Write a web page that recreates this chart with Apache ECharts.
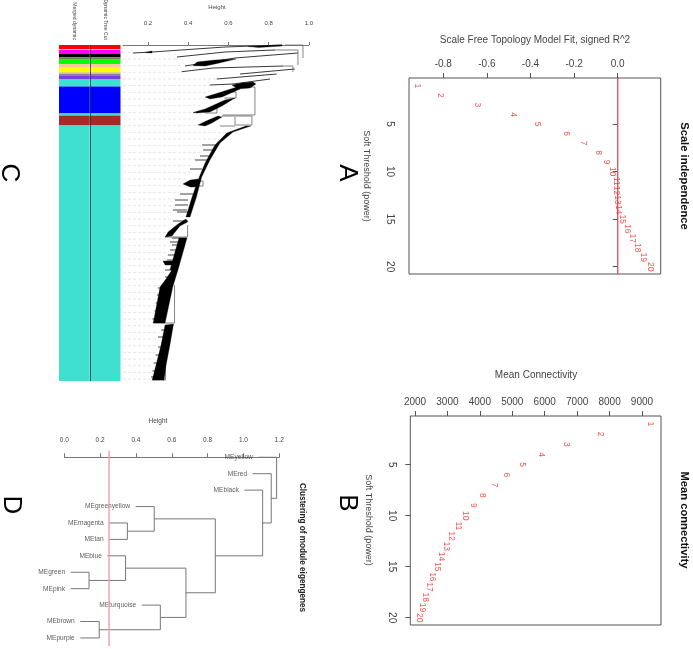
<!DOCTYPE html>
<html><head><meta charset="utf-8">
<style>html,body{margin:0;padding:0;background:#fff}#c{width:693px;height:649px;filter:blur(0.35px)}</style>
<script src="https://cdn.jsdelivr.net/npm/echarts@6/dist/echarts.min.js"></script>
</head><body><div id="c"></div>
<script>
// Panels A, B: soft-threshold power vs fit and connectivity
const powers = [1,2,3,4,5,6,7,8,9,10,11,12,13,14,15,16,17,18,19,20];
const fitR2 = [-0.919,-0.812,-0.642,-0.477,-0.37,-0.234,-0.158,-0.087,-0.05,-0.024,-0.008,-0.008,0,0.003,0.023,0.043,0.069,0.092,0.119,0.15];
const meanK = [9256,7725,6676,5895,5299,4826,4436,4086,3799,3542,3336,3131,2966,2812,2678,2545,2432,2308,2216,2123];
const fitTicks = [-0.8,-0.6,-0.4,-0.2,0];
const kTicks = [2000,3000,4000,5000,6000,7000,8000,9000];
const powerTicks = [5,10,15,20];
const rCut = 0;

// Panel C: module colour strips (gene counts in dendrogram order, in hundreds)
const stripNames = ['Merged dynamic','Dynamic Tree Cut'];
const moduleColors = ['#ff0000','#f7b7b7','#ff00ff','#000000','#6f7f4f','#00ff00','#ffc4a0','#ffff00','#d8c070','#8a80a8','#7a3fe0','#40e0d0','#0000ff','#40e0d0','#a52a2a','#40e0d0'];
const moduleSizes = [4,1,3.7,3.6,2.4,4.3,3.7,4.6,1.7,2,3,7.5,27,2,10,255.5];
const heightTicksC = [0.2,0.4,0.6,0.8,1.0];

// Panel C: gene dendrogram, [height, gene order]
const denseBranches = [
 [[.711,81],[.623,87],[.558,98],[.508,115],[.467,132],[.441,152],[.409,172],[.389,172],[.416,154],[.449,135],[.484,118],[.533,100],[.592,88],[.687,81]],
 [[.285,192],[.300,187],[.349,179],[.389,174],[.397,177],[.359,181],[.319,191]],
 [[.394,193],[.349,225],[.309,225],[.354,193]],
 [[.275,216],[.344,216],[.344,220],[.285,220]],
 [[.349,225],[.323,242],[.285,278],[.226,278],[.260,242],[.293,233],[.319,225]],
 [[.327,279],[.309,300],[.290,320],[.280,335],[.221,335],[.240,320],[.265,300],[.285,280]],
 [[.374,139],[.41,135],[.45,134],[.45,142],[.41,142]],
 [[.697,1.5],[.867,0],[.867,1],[.75,2.5]],
 [[.185,7.5],[.22,6],[.22,8]],
 [[.424,20.7],[.444,17],[.533,15],[.638,14],[.533,19],[.484,21]],
 [[.618,40],[.668,38],[.722,37],[.737,39],[.707,43],[.648,44]],
 [[.484,52],[.533,49],[.643,42],[.658,44],[.568,52],[.508,54]],
 [[.424,67.5],[.484,64],[.528,60],[.583,55],[.633,53],[.568,61],[.508,67],[.444,68]],
 [[.449,80],[.489,76],[.548,71],[.568,72],[.518,78],[.484,81]]
];
const thinBranches = [
 [[.125,8],[.22,7],[.583,2],[.867,0]],
 [[.344,12],[.583,7],[.832,5]],
 [[.384,21],[.633,13],[.946,8]],
 [[.368,26.7],[.523,23],[.872,21]],
 [[.658,29],[.931,24]],
 [[.542,34],[.84,29]],
 [[.508,40],[.623,39],[.807,34]]
];
const brackets = [
 [[.882,0],[.971,0],[.971,13]],
 [[.832,5],[.946,5],[.946,20]],
 [[.872,21],[.921,21],[.921,27]],
 [[.643,42],[.732,42],[.732,70],[.57,70]],
 [[.568,71],[.717,71],[.717,80],[.633,80],[.633,72]],
 [[.558,81],[.633,81]],
 [[.58,47],[.638,47],[.638,53],[.58,53]],
 [[.484,68],[.543,68],[.543,63]],
 [[.397,180],[.397,192],[.285,192]],
 [[.332,240],[.332,278],[.226,278]],
 [[.287,315],[.287,335],[.221,335]],
 [[.444,136],[.474,136],[.474,141],[.444,141]]
];
// short side branches: [gene order, low height, high height]
const sideBranches = [
 [100,.469,.533],[105,.474,.533],[111,.459,.508],[115,.434,.494],[124,.409,.469],
 [149,.359,.424],[155,.334,.399],[160,.334,.399],[165,.324,.394],[167,.344,.409],[176,.324,.399],
 [193,.319,.394],[197,.309,.384],[200,.319,.374],[205,.309,.374],[210,.299,.359],[215,.294,.349],
 [225,.285,.344],[232,.285,.334],
 [243,.25,.30],[250,.245,.29],[258,.238,.28],[266,.232,.27],[274,.222,.26],
 [285,.265,.30],[292,.25,.29],[302,.25,.28],[310,.238,.27],[318,.228,.26],[326,.222,.25],[332,.215,.24]
];
const guideSpacing = 6.67, guideStart = 7.3;
const guideEnds = [.125,.344,.374,.359,.538,.508,.494,.494,.459,.434,.449,.449,.618,.558,.474,.474,.444,.419,.409,.389,.374,.359,.334,.324,.324,.319,.299,.285,.309,.309,.299,.290,.275,.280,.275,.260,.245,.240,.235,.230,.225,.260,.255,.245,.240,.235,.230,.225,.220,.215];

// Panel D: eigengene clustering
const eigengenes = ['MEyellow','MEred','MEblack','MEgreenyellow','MEmagenta','MEtan','MEblue','MEgreen','MEpink','MEturquoise','MEbrown','MEpurple'];
const leafHeights = [1.083,1.051,1.005,0.398,0.25,0.25,0.24,0.035,0.035,0.432,0.089,0.089];
// merges: [left node, right node, height]; node = leaf index or 'm'+merge index
const merges = [[10,11,0.195],[9,'m0',0.536],[7,8,0.138],[6,'m2',0.342],['m3','m1',0.679],[4,5,0.352],[3,'m5',0.502],['m6','m4',0.843],[2,'m7',1.107],[1,'m8',1.155],[0,'m9',1.185]];
const heightTicksD = [0,0.2,0.4,0.6,0.8,1.0,1.2];
const cutHeight = 0.25;

const ink='#444', font='Liberation Sans, Arial, sans-serif';
function scatterLabels(xs,xi){
  return {type:'scatter',xAxisIndex:xi,yAxisIndex:xi,symbolSize:1,itemStyle:{color:'rgba(0,0,0,0)'},z:5,
    data:powers.map((p,i)=>({value:[xs[i],p],name:String(p)})),
    label:{show:true,formatter:'{b}',position:'inside',rotate:-90,fontSize:8.5,color:'#f02828',fontFamily:font,align:'center',verticalAlign:'middle'}};
}
function boxX(gi,min,max,ticks,fmt){
  return {type:'value',gridIndex:gi,position:'top',min,max,splitLine:{show:false},
    axisLine:{show:false},
    axisTick:{show:true,length:5,customValues:ticks,lineStyle:{color:'#555'}},
    axisLabel:{show:true,customValues:ticks,margin:9,fontSize:10,color:ink,fontFamily:font,formatter:fmt}};
}
function boxY(gi,min,max){
  return {type:'value',gridIndex:gi,inverse:true,min,max,splitLine:{show:false},
    axisLine:{show:false},
    axisTick:{show:true,length:5,customValues:powerTicks,lineStyle:{color:'#555'}},
    axisLabel:{show:true,customValues:powerTicks,rotate:-90,margin:14,fontSize:10,color:ink,fontFamily:font}};
}
function polyData(list){return list.map(p=>p[0]);}
function shapes(list,kind,stroke,w,dash){
  return {type:'custom',coordinateSystem:'cartesian2d',xAxisIndex:3,yAxisIndex:3,clip:false,z:4,silent:true,
    data:polyData(list),
    renderItem:(params,api)=>({type:kind,shape:{points:list[params.dataIndex].map(p=>api.coord(p))},
      style:kind==='polygon'?{fill:'#000',stroke:'#000',lineWidth:.3}:{fill:null,stroke,lineWidth:w,lineDash:dash||null}})};
}

// dendrogram D built from merges
const pos={},hgt={};
leafHeights.forEach((h,i)=>{pos[i]=i;hgt[i]=h;});
const joins=[];
merges.forEach((m,i)=>{
  const id='m'+i,a=m[0],b=m[1],h=m[2];
  joins.push([[hgt[a],pos[a]],[h,pos[a]],[h,pos[b]],[hgt[b],pos[b]]]);
  pos[id]=(pos[a]+pos[b])/2;hgt[id]=h;
});
const guides=guideEnds.map((h,k)=>[[0.0756,guideStart+k*guideSpacing],[h,guideStart+k*guideSpacing]]);
const sides=sideBranches.map(s=>[[s[1],s[0]],[s[2],s[0]]]);

const titles=[
 ['Scale Free Topology Model Fit, signed R^2',535,40,0,10,false,ink],
 ['Mean Connectivity',536,375,0,10,false,ink],
 ['Soft Threshold (power)',366,176,1,9,false,ink],
 ['Soft Threshold (power)',368,520,1,9,false,ink],
 ['Scale independence',684,176,1,11.2,true,'#111'],
 ['Mean connectivity',684,520,1,11.2,true,'#111'],
 ['Height',217,7,0,6,false,ink],
 ['Height',158,421,0,6.5,false,ink],
 ['Clustering of module eigengenes',302,547.5,1,8.2,true,'#222'],
 ['A',347,173,1,26,false,'#000'],
 ['B',347,503,1,26,false,'#000'],
 ['C',9,173,1,26,false,'#000'],
 ['D',11,505,1,26,false,'#000']
];

const chart=echarts.init(document.getElementById('c'),null,{renderer:'canvas',width:693,height:649});
chart.setOption({
 animation:false,backgroundColor:'#fff',
 grid:[
  {left:409,top:78,width:251.7,height:196,show:true,borderColor:'#555',borderWidth:1,backgroundColor:'transparent',outerBoundsMode:'none'},
  {left:410.3,top:416,width:250.7,height:209,show:true,borderColor:'#555',borderWidth:1,backgroundColor:'transparent',outerBoundsMode:'none'},
  {left:59,top:45,width:61.5,height:336,outerBoundsMode:'none'},
  {left:123,top:45,width:185.8,height:336,outerBoundsMode:'none'},
  {left:64.3,top:450.7,width:215,height:195.3,outerBoundsMode:'none'}
 ],
 xAxis:[
  boxX(0,-0.957,0.197,fitTicks,v=>v===0?'0.0':v.toFixed(1)),
  boxX(1,1855,9586,kTicks,v=>String(v)),
  {type:'category',gridIndex:2,position:'top',data:stripNames,z:10,axisLine:{show:false},axisTick:{show:false},
   splitLine:{show:true,showMinLine:false,showMaxLine:false,lineStyle:{color:'rgba(20,50,60,.75)',width:1}},
   axisLabel:{show:true,interval:0,rotate:-90,margin:5,fontSize:5.1,color:ink,fontFamily:font}},
  {type:'value',gridIndex:3,position:'top',offset:13.5,min:0.0756,max:1,splitLine:{show:false},
   axisLine:{show:true,lineStyle:{color:'#777'}},
   axisTick:{show:true,length:3,customValues:heightTicksC,lineStyle:{color:'#777'}},
   axisLabel:{show:true,customValues:heightTicksC,margin:5,fontSize:6,color:ink,fontFamily:font,formatter:v=>v.toFixed(1)}},
  {type:'value',gridIndex:4,position:'top',min:0,max:1.2,interval:0.2,splitLine:{show:false},
   axisLine:{show:true,lineStyle:{color:'#777'}},
   axisTick:{show:true,length:4,lineStyle:{color:'#777'}},
   axisLabel:{show:true,margin:7,fontSize:6.5,color:ink,fontFamily:font,formatter:v=>v.toFixed(1)}}
 ],
 yAxis:[
  boxY(0,0.163,20.77),
  boxY(1,0.225,20.72),
  {type:'value',gridIndex:2,inverse:true,min:0,max:336,show:false},
  {type:'value',gridIndex:3,inverse:true,min:0,max:336,show:false},
  {type:'value',gridIndex:4,inverse:true,min:-0.4,max:11.49,show:false}
 ],
 graphic:titles.map(t=>({type:'text',x:t[1],y:t[2],rotation:t[3]?-Math.PI/2:0,z:20,silent:true,
   style:{text:t[0],fontSize:t[4],fontWeight:t[5]?'bold':'normal',fill:t[6],fontFamily:font,textAlign:'center',textVerticalAlign:'middle'}})),
 series:[
  scatterLabels(fitR2,0),
  {type:'line',xAxisIndex:0,yAxisIndex:0,symbol:'none',data:[[rCut,0.163],[rCut,20.77]],lineStyle:{color:'#e03848',width:1.2},z:3},
  scatterLabels(meanK,1),
  ...moduleSizes.map((v,i)=>({type:'bar',xAxisIndex:2,yAxisIndex:2,stack:'strip',barWidth:'100%',
    data:stripNames.map(()=>v),itemStyle:{color:moduleColors[i]}})),
  shapes(guides,'polyline','#e6e6e6',1,[3,2]),
  shapes(sides,'polyline','#444',1),
  shapes(thinBranches,'polyline','#222',0.9),
  shapes(brackets,'polyline','#666',0.8),
  shapes(denseBranches,'polygon'),
  ...joins.map(j=>({type:'line',xAxisIndex:4,yAxisIndex:4,symbol:'none',data:j,lineStyle:{color:'#777',width:1},z:2})),
  {type:'scatter',xAxisIndex:4,yAxisIndex:4,symbolSize:1,itemStyle:{color:'rgba(0,0,0,0)'},z:5,
   data:eigengenes.map((n,i)=>({value:[leafHeights[i],i],name:n})),
   label:{show:true,formatter:'{b}',position:'left',distance:5,fontSize:6.6,color:'#333',fontFamily:font}},
  {type:'line',xAxisIndex:4,yAxisIndex:4,symbol:'none',data:[[cutHeight,-0.4],[cutHeight,11.49]],lineStyle:{color:'#eda0a0',width:1.4},z:6}
 ]
});
</script></body></html>
